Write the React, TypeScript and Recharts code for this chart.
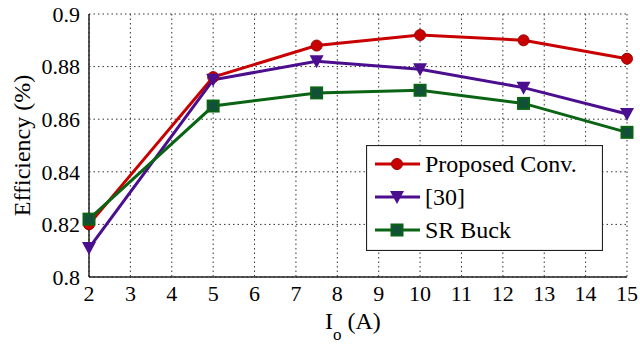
import {
  CartesianGrid,
  Line,
  LineChart,
  XAxis,
  YAxis,
} from "recharts";

const current = [2, 5, 7.5, 10, 12.5, 15];
const proposed = [0.82, 0.876, 0.888, 0.892, 0.89, 0.883];
const ref30 = [0.811, 0.875, 0.882, 0.879, 0.872, 0.862];
const srBuck = [0.822, 0.865, 0.87, 0.871, 0.866, 0.855];

const xTicks = [2, 3, 4, 5, 6, 7, 8, 9, 10, 11, 12, 13, 14, 15];
const yTicks = [0.8, 0.82, 0.84, 0.86, 0.88, 0.9];

const data = current.map((x, i) => ({
  x,
  proposed: proposed[i],
  ref30: ref30[i],
  srBuck: srBuck[i],
}));

const FONT = "Liberation Serif, Times New Roman, serif";
const RED = "#c80000";
const PURPLE = "#4a0e8f";
const GREEN = "#0a6414";

const Circle = (p: any) => (
  <circle key={p.index} cx={p.cx} cy={p.cy} r={5.5} fill={RED} stroke="#a00000" strokeWidth={1} />
);
const Tri = (p: any) => (
  <path
    key={p.index}
    d={`M${p.cx - 7},${p.cy - 6} L${p.cx + 7},${p.cy - 6} L${p.cx},${p.cy + 7} Z`}
    fill={PURPLE}
  />
);
const Square = (p: any) => (
  <rect
    key={p.index}
    x={p.cx - 5.5}
    y={p.cy - 5.5}
    width={11}
    height={11}
    fill="#12503a"
    stroke={GREEN}
    strokeWidth={2}
  />
);

const legendItems = [
  { name: "Proposed Conv.", color: RED, kind: "c" },
  { name: "[30]", color: PURPLE, kind: "t" },
  { name: "SR Buck", color: GREEN, kind: "s" },
];

const LegendBox = () => (
  <svg width={237} height={106} style={{ position: "absolute", left: 366, top: 145 }}>
    <rect x={0.5} y={0.5} width={236} height={105} fill="#fff" stroke="#222" strokeWidth={1.2} />
    {legendItems.map((it, i) => {
      const cy = 19 + i * 33;
      return (
        <g key={it.name}>
          <line x1={9} x2={54} y1={cy} y2={cy} stroke={it.color} strokeWidth={3} />
          {it.kind === "c" && Circle({ cx: 31, cy })}
          {it.kind === "t" && Tri({ cx: 31, cy })}
          {it.kind === "s" && Square({ cx: 31, cy })}
          <text x={59} y={cy + 8} fontFamily={FONT} fontSize={24} fill="#000">
            {it.name}
          </text>
        </g>
      );
    })}
  </svg>
);

const yFmt = (v: number) => String(Number(v.toFixed(2)));

export default function App() {
  return (
    <div
      style={{
        position: "absolute",
        left: 0,
        top: 0,
        width: 640,
        height: 344,
        background: "#fff",
        fontFamily: FONT,
      }}
    >
      <LineChart
        width={640}
        height={344}
        data={data}
        margin={{ top: 14, right: 13, bottom: 0, left: 0 }}
      >
        <CartesianGrid stroke="#333" strokeDasharray="1.5 3" />
        <XAxis
          dataKey="x"
          type="number"
          domain={[2, 15]}
          ticks={xTicks}
          interval={0}
          height={67}
          axisLine={{ stroke: "#222", strokeWidth: 1.5 }}
          tickLine={false}
          tick={{ fontFamily: FONT, fontSize: 22, fill: "#000", dy: 0 }}
          label={(props: any) => {
            const vb = props.viewBox;
            const cx = vb.x + vb.width / 2;
            return (
              <text x={cx - 33} y={329} fontFamily={FONT} fontSize={24} fill="#000">
                I
                <tspan fontSize={17} dy={11}>o</tspan>
                <tspan dy={-11}> (A)</tspan>
              </text>
            );
          }}
        />
        <XAxis
          xAxisId="top"
          dataKey="x"
          type="number"
          domain={[2, 15]}
          orientation="top"
          height={0}
          tick={false}
          tickLine={false}
          axisLine={{ stroke: "#222", strokeWidth: 1.5 }}
        />
        <YAxis
          type="number"
          domain={[0.8, 0.9]}
          ticks={yTicks}
          interval={0}
          width={89}
          tickFormatter={yFmt}
          axisLine={{ stroke: "#222", strokeWidth: 1.5 }}
          tickLine={false}
          tick={{ fontFamily: FONT, fontSize: 22, fill: "#000", dx: -1 }}
          label={(props: any) => {
            const vb = props.viewBox;
            const cy = vb.y + vb.height / 2;
            return (
              <text
                x={22}
                y={cy}
                transform={`rotate(-90, 22, ${cy})`}
                textAnchor="middle"
                dominantBaseline="central"
                fontFamily={FONT}
                fontSize={24}
                fill="#000"
              >
                Efficiency (%)
              </text>
            );
          }}
        />
        <YAxis
          yAxisId="right"
          type="number"
          domain={[0.8, 0.9]}
          orientation="right"
          width={0}
          tick={false}
          tickLine={false}
          axisLine={{ stroke: "#222", strokeWidth: 1.5 }}
        />
        <Line
          dataKey="proposed"
          name="Proposed Conv."
          stroke={RED}
          strokeWidth={3}
          dot={Circle}
          isAnimationActive={false}
        />
        <Line
          dataKey="ref30"
          name="[30]"
          stroke={PURPLE}
          strokeWidth={3}
          dot={Tri}
          isAnimationActive={false}
        />
        <Line
          dataKey="srBuck"
          name="SR Buck"
          stroke={GREEN}
          strokeWidth={3}
          dot={Square}
          isAnimationActive={false}
        />
      </LineChart>
      <LegendBox />
    </div>
  );
}
